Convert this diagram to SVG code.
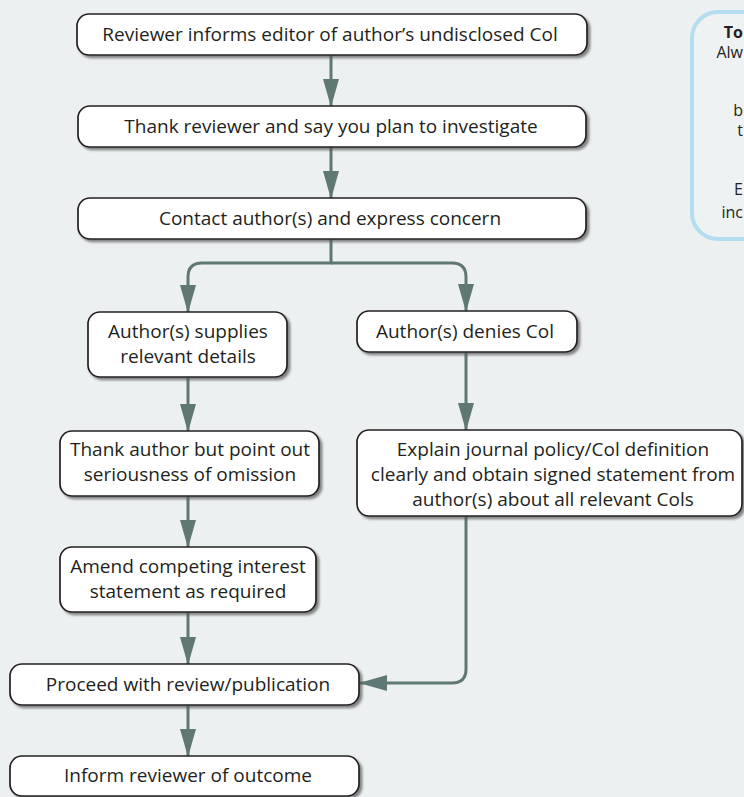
<svg xmlns="http://www.w3.org/2000/svg" width="744" height="797" viewBox="0 0 744 797">
<style>
.bg{fill:#ECF0F1}
.box{fill:#FFFFFF;stroke:#231F20;stroke-width:1.7;filter:url(#sh)}
.t{font-family:"Open Sans","Noto Sans","Liberation Sans",sans-serif;font-size:19px;fill:#231F20;text-anchor:middle}
.tl{font-family:"Open Sans","Noto Sans","Liberation Sans",sans-serif;font-size:16px;fill:#231F20;text-anchor:end}
.b{font-weight:bold}
.c{fill:none;stroke:#5F7873;stroke-width:3;marker-end:url(#ah)}
.note{fill:#EEF2F3;stroke:#B5DDF0;stroke-width:4}
</style>
<defs>
<filter id="sh" x="-5%" y="-10%" width="115%" height="130%">
<feDropShadow dx="2.5" dy="2.5" stdDeviation="0.8" flood-color="#555555" flood-opacity="0.7"/>
</filter>
<marker id="ah" viewBox="0 0 28 16" refX="27" refY="8" markerWidth="28" markerHeight="16" markerUnits="userSpaceOnUse" orient="auto">
<path d="M0,0 L28,8 L0,16 z" fill="#5F7873"/>
</marker>
</defs>
<rect class="bg" x="0" y="0" width="744" height="797"/>

<g id="connectors">
<path class="c" d="M331,55 V106"/>
<path class="c" d="M331,147 V198"/>
<path class="c" d="M331,239 V263 H202 Q188,263 188,277 V312"/>
<path class="c" d="M331,263 H452 Q466,263 466,277 V311"/>
<path class="c" d="M188,377 V431"/>
<path class="c" d="M466,352 V430"/>
<path class="c" d="M188,496 V547"/>
<path class="c" d="M188,612 V664"/>
<path class="c" d="M466,516 V669 Q466,683 452,683 H360"/>
<path class="c" d="M188,705 V756"/>
</g>

<g id="n1">
<rect class="box" x="77" y="14" width="510" height="41" rx="12"/>
<text class="t" x="330" y="40.5">Reviewer informs editor of author’s undisclosed Col</text>
</g>
<g id="n2">
<rect class="box" x="78" y="106" width="508" height="41" rx="12"/>
<text class="t" x="331" y="133">Thank reviewer and say you plan to investigate</text>
</g>
<g id="n3">
<rect class="box" x="78" y="198" width="508" height="41" rx="12"/>
<text class="t" x="330" y="225">Contact author(s) and express concern</text>
</g>
<g id="n4">
<rect class="box" x="88" y="312" width="199" height="65" rx="12"/>
<text class="t" x="188" y="337.5">Author(s) supplies</text>
<text class="t" x="188" y="362.5">relevant details</text>
</g>
<g id="n5">
<rect class="box" x="357" y="311" width="220" height="41" rx="12"/>
<text class="t" x="465" y="338">Author(s) denies Col</text>
</g>
<g id="n6">
<rect class="box" x="60" y="431" width="259" height="65" rx="12"/>
<text class="t" x="190" y="456">Thank author but point out</text>
<text class="t" x="190" y="481">seriousness of omission</text>
</g>
<g id="n7">
<rect class="box" x="357" y="430" width="385" height="86" rx="12"/>
<text class="t" x="553" y="455.5">Explain journal policy/Col definition</text>
<text class="t" x="553" y="480.5">clearly and obtain signed statement from</text>
<text class="t" x="553" y="505.5">author(s) about all relevant Cols</text>
</g>
<g id="n8">
<rect class="box" x="60" y="547" width="256" height="65" rx="12"/>
<text class="t" x="188" y="573">Amend competing interest</text>
<text class="t" x="188" y="598">statement as required</text>
</g>
<g id="n9">
<rect class="box" x="10" y="664" width="349" height="41" rx="12"/>
<text class="t" x="188" y="690.5">Proceed with review/publication</text>
</g>
<g id="n10">
<rect class="box" x="10" y="756" width="349" height="40" rx="12"/>
<text class="t" x="188" y="782">Inform reviewer of outcome</text>
</g>

<g id="note">
<rect class="note" x="692" y="12" width="120" height="227" rx="26"/>
<text class="tl b" x="743" y="38">To</text>
<text class="tl" x="743" y="58">Alw</text>
<text class="tl" x="743" y="116">b</text>
<text class="tl" x="743" y="136">t</text>
<text class="tl" x="743" y="195">E</text>
<text class="tl" x="743" y="218">inc</text>
</g>
</svg>
